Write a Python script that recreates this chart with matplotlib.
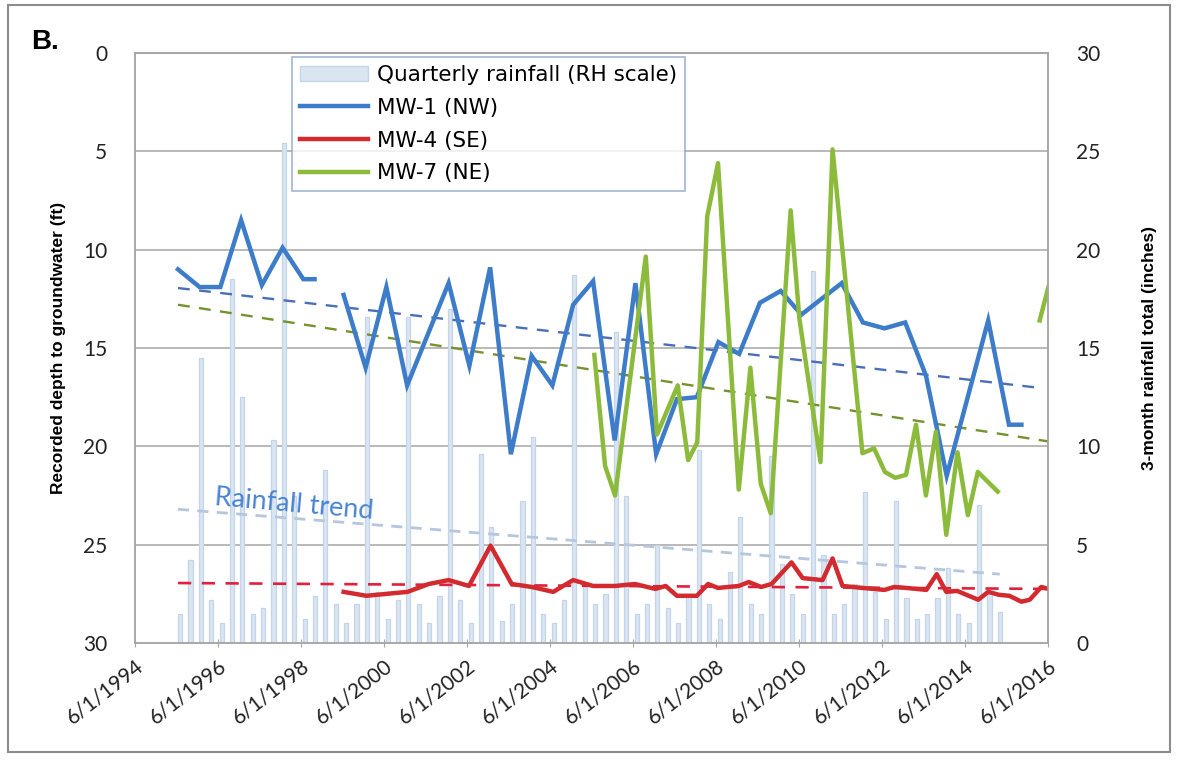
import numpy as np
import matplotlib
matplotlib.use("Agg")
import matplotlib.pyplot as plt
from matplotlib.patches import Rectangle, Patch
from matplotlib.lines import Line2D

plt.rcParams['font.family'] = ['Lato', 'DejaVu Sans']

# groundwater depth (ft) by decimal year
mw1_year = [1995.45, 1995.97, 1996.47, 1996.97, 1997.47, 1997.97, 1998.47, 1998.74, np.nan,
            1999.44, 1999.97, 2000.47, 2000.97, 2001.97, 2002.47, 2002.97, 2003.47, 2003.97,
            2004.47, 2004.97, 2005.45, 2005.97, 2006.47, 2006.97, 2007.47, 2007.95, 2008.47,
            2008.97, 2009.47, 2009.97, 2010.47, 2011.44, 2011.95, 2012.47, 2012.97, 2013.47,
            2013.97, 2014.97, 2015.47, 2015.77]
mw1_depth = [11.0, 11.9, 11.9, 8.5, 11.8, 9.9, 11.5, 11.5, np.nan,
             12.3, 16.0, 11.9, 16.9, 11.7, 15.9, 10.9, 20.4, 15.4,
             16.9, 12.8, 11.6, 19.7, 11.7, 20.4, 17.6, 17.5, 14.7,
             15.3, 12.7, 12.1, 13.3, 11.7, 13.7, 14.0, 13.7, 16.4,
             21.5, 13.6, 18.9, 18.9]

mw4_year = [1999.44, 1999.99, 2000.48, 2000.98, 2001.49, 2001.97, 2002.46, 2002.98, 2003.49,
            2003.97, 2004.49, 2004.97, 2005.45, 2005.98, 2006.46, 2006.95, 2007.2, 2007.47,
            2007.95, 2008.22, 2008.46, 2008.96, 2009.2, 2009.5, 2009.75, 2010.23, 2010.5,
            2010.98, 2011.22, 2011.46, 2011.94, 2012.47, 2012.71, 2013.0, 2013.48, 2013.73,
            2013.96, 2014.22, 2014.73, 2014.97, 2015.23, 2015.48, 2015.77, 2015.97, 2016.25,
            2016.42]
mw4_depth = [27.4, 27.6, 27.5, 27.4, 27.0, 26.8, 27.1, 25.05, 27.0,
             27.15, 27.4, 26.8, 27.1, 27.1, 27.0, 27.25, 27.1, 27.6,
             27.6, 27.0, 27.2, 27.1, 26.9, 27.15, 27.0, 25.9, 26.7,
             26.8, 25.7, 27.1, 27.2, 27.3, 27.15, 27.2, 27.3, 26.5,
             27.4, 27.35, 27.8, 27.4, 27.55, 27.6, 27.9, 27.8, 27.15,
             27.25]

mw7_year = [2005.48, 2005.74, 2005.98, 2006.72, 2006.99, 2007.49, 2007.74, 2007.96, 2008.2,
            2008.46, 2008.96, 2009.24, 2009.49, 2009.73, 2010.21, 2010.42, 2010.93, 2011.22,
            2011.94, 2012.22, 2012.48, 2012.73, 2012.99, 2013.23, 2013.47, 2013.71, 2013.96,
            2014.23, 2014.48, 2014.72, 2015.2, np.nan, 2016.21, 2016.42]
mw7_depth = [15.35, 21.0, 22.5, 10.35, 19.4, 16.9, 20.7, 19.8, 8.3,
             5.6, 22.2, 16.0, 21.9, 23.4, 8.0, 13.5, 20.8, 4.9,
             20.35, 20.1, 21.3, 21.6, 21.45, 18.9, 22.5, 19.25, 24.5,
             20.3, 23.5, 21.3, 22.3, np.nan, 13.6, 11.9]

# linear trends (end points)
mw1_trend_year, mw1_trend = [1995.45, 2016.3], [11.95, 17.05]
mw7_trend_year, mw7_trend = [1995.45, 2016.42], [12.8, 19.75]
mw4_trend_year, mw4_trend = [1995.45, 2016.42], [26.95, 27.25]
rain_trend_year, rain_trend = [1995.45, 2015.25], [6.8, 3.5]

# quarterly rainfall (inches), first quarter ending mid-1995
rain_start = 1995.5
rain_q = [1.5, 4.2, 14.5, 2.2, 1.0, 18.5, 12.5, 1.5, 1.8, 10.3,
          25.4, 7.5, 1.2, 2.4, 8.8, 2.0, 1.0, 2.0, 16.6, 2.6,
          1.2, 2.2, 16.6, 2.0, 1.0, 2.4, 17.0, 2.2, 1.0, 9.6,
          5.9, 1.1, 2.0, 7.2, 10.5, 1.5, 1.0, 2.2, 18.7, 3.0,
          2.0, 2.5, 15.8, 7.5, 1.5, 2.0, 5.0, 1.8, 1.0, 2.5,
          9.8, 2.0, 1.2, 3.6, 6.4, 2.0, 1.5, 9.5, 4.0, 2.5,
          1.5, 18.9, 4.5, 1.5, 2.0, 3.0, 7.7, 2.6, 1.2, 7.2,
          2.3, 1.2, 1.5, 2.3, 3.8, 1.5, 1.0, 7.0, 2.6, 1.6]

tick_years = list(range(1994, 2017, 2))
tick_labels = ["6/1/%d" % y for y in tick_years]

blue = '#3d7cc9'
red = '#d22a2e'
green = '#8cbb3c'
bar_face = '#dae5f2'
bar_edge = '#c4d5ea'

fig = plt.figure(figsize=(11.79, 7.72), dpi=100)
ax2 = fig.add_axes([0.1145, 0.1671, 0.7745, 0.7642])
ax = ax2.twinx()
ax.set_zorder(ax2.get_zorder() + 1)
ax.patch.set_visible(False)
ax2.yaxis.tick_right()
ax2.yaxis.set_label_position('right')
ax.yaxis.tick_left()
ax.yaxis.set_label_position('left')

x0 = 1994 + 151 / 365
x1 = 2016 + 151 / 365

rain_x = rain_start + 0.25 * np.arange(len(rain_q))
ax2.bar(rain_x, rain_q, width=0.1, color=bar_face, edgecolor=bar_edge,
        linewidth=0.9, zorder=2)
ax2.plot(rain_trend_year, rain_trend, color='#b6c6dd', lw=2, dashes=(4, 3), zorder=3)
ax2.set_ylim(0, 30)
ax2.set_yticks(range(0, 31, 5))
ax2.set_xlim(x0, x1)
for v in range(5, 31, 5):
    ax2.axhline(v, color='#a6a6a6', lw=1.1, zorder=1)

ax.plot(mw1_trend_year, mw1_trend, color='#4a6fb8', lw=1.7, dashes=(5, 4))
ax.plot(mw7_trend_year, mw7_trend, color='#75922f', lw=1.7, dashes=(5, 4))
ax.plot(mw4_trend_year, mw4_trend, color='#e0203c', lw=1.9, dashes=(5, 4))
ax.plot(mw1_year, mw1_depth, color=blue, lw=3.2, solid_joinstyle='miter')
ax.plot(mw4_year, mw4_depth, color=red, lw=3.2)
ax.plot(mw7_year, mw7_depth, color=green, lw=3.2)
ax.set_ylim(30, 0)
ax.set_yticks(range(0, 31, 5))
ax.set_xlim(x0, x1)

tick_pos = [y + 151 / 365 for y in tick_years]
ax2.set_xticks(tick_pos)
ax2.set_xticklabels(tick_labels, rotation=38, ha='right', rotation_mode='anchor',
                    fontsize=15, color='#222222')
ax2.tick_params(axis='x', direction='inout', length=6, color='#a6a6a6', pad=6)
ax2.tick_params(axis='y', length=0, labelsize=15, pad=20, labelcolor='#222222')
ax.tick_params(axis='y', length=0, labelsize=15, pad=20, labelcolor='#222222')
ax.tick_params(axis='x', length=0, labelbottom=False)

for a in (ax, ax2):
    for s in a.spines.values():
        s.set_color('#a6a6a6')
        s.set_linewidth(1.1)

ax.set_ylabel('Recorded depth to groundwater (ft)', family=['Liberation Sans'],
              fontweight='bold', fontsize=12.5, labelpad=12)
ax2.set_ylabel('3-month rainfall total (inches)', family=['Liberation Sans'],
               fontweight='bold', fontsize=12.5, labelpad=30, rotation=90)

ax.text(1998.25, 22.95, 'Rainfall trend', color='#4a84d0', fontsize=19.5,
        rotation=-5, ha='center', va='center')

handles = [Patch(facecolor=bar_face, edgecolor=bar_edge),
           Line2D([], [], color=blue, lw=3.2),
           Line2D([], [], color=red, lw=3.2),
           Line2D([], [], color=green, lw=3.2)]
labels = ['Quarterly rainfall (RH scale)', 'MW-1 (NW)', 'MW-4 (SE)', 'MW-7 (NE)']
leg = ax.legend(handles, labels, loc='upper left', bbox_to_anchor=(0.172, 0.993),
                borderaxespad=0, prop={'family': 'DejaVu Sans', 'size': 15.5},
                frameon=True, fancybox=False, handlelength=3.2, labelspacing=0.6,
                borderpad=0.35, handletextpad=0.4)
leg.get_frame().set_edgecolor('#8aa3cc')
leg.get_frame().set_linewidth(1.2)

fig.text(0.026, 0.945, 'B.', family=['Liberation Sans'], fontweight='bold',
         fontsize=20, ha='left', va='center')

fig.patches.append(Rectangle((8 / 1179, 20 / 772), 1162 / 1179, 747 / 772,
                             transform=fig.transFigure, fill=False,
                             edgecolor='#8c8c8c', lw=1.5))

fig.savefig('out.png', dpi=100)
